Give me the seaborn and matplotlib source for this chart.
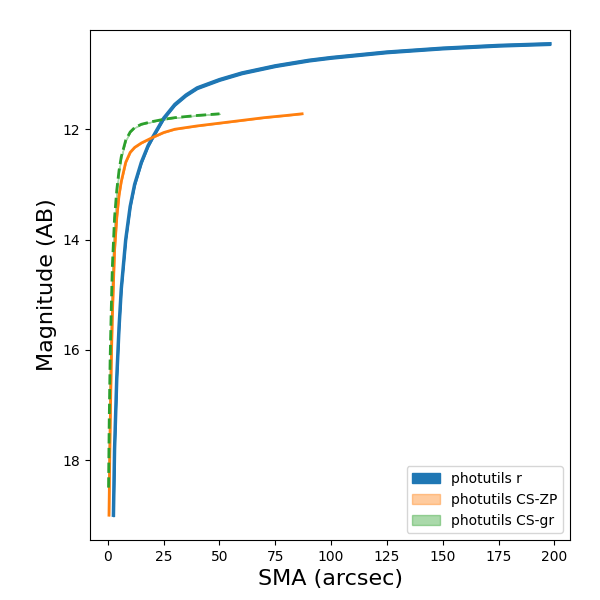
import numpy as np
import matplotlib
matplotlib.use("Agg")
import matplotlib.pyplot as plt
import seaborn as sns

sma_r = [2.5, 3, 4, 5, 6, 8, 10, 12, 15, 18, 20, 25, 30, 35, 40, 50, 60, 75, 90, 100, 125, 150, 175, 198]
mag_r = [19.0, 17.8, 16.5, 15.6, 14.9, 14.0, 13.4, 13.0, 12.6, 12.3, 12.15, 11.8, 11.55, 11.38, 11.25, 11.1, 10.98, 10.85, 10.75, 10.7, 10.6, 10.53, 10.48, 10.45]
sma_zp = [0.5, 1, 1.5, 2, 3, 4, 5, 6, 8, 10, 12, 15, 20, 25, 30, 40, 50, 60, 70, 80, 87]
mag_zp = [19.0, 17.5, 16.3, 15.4, 14.2, 13.6, 13.2, 12.95, 12.6, 12.42, 12.33, 12.25, 12.15, 12.06, 12.0, 11.94, 11.89, 11.84, 11.79, 11.75, 11.72]
sma_gr = [0.3, 0.6, 1, 1.5, 2, 3, 4, 5, 6, 8, 10, 12, 15, 20, 25, 30, 40, 50]
mag_gr = [18.5, 17.3, 16.2, 15.3, 14.5, 13.6, 13.1, 12.75, 12.5, 12.2, 12.05, 11.97, 11.91, 11.86, 11.82, 11.79, 11.75, 11.72]

c = sns.color_palette("tab10")
fig, ax = plt.subplots(figsize=(6, 6), dpi=100)

sns.lineplot(x=sma_r, y=mag_r, ax=ax, color=c[0], lw=2.5, sort=False)
ax.fill_between(sma_r, np.array(mag_r) - 0.02, np.array(mag_r) + 0.02, color=c[0], alpha=1, label="photutils r")
sns.lineplot(x=sma_zp, y=mag_zp, ax=ax, color=c[1], lw=2, sort=False)
ax.fill_between(sma_zp, mag_zp, mag_zp, color=c[1], alpha=0.4, label="photutils CS-ZP")
sns.lineplot(x=sma_gr, y=mag_gr, ax=ax, color=c[2], lw=2, ls="--", sort=False)
ax.fill_between(sma_gr, mag_gr, mag_gr, color=c[2], alpha=0.4, label="photutils CS-gr")

ax.set_xlim(-8, 207)
ax.set_ylim(19.45, 10.2)
ax.set_xticks(range(0, 201, 25))
ax.set_yticks([12, 14, 16, 18])
ax.set_xlabel("SMA (arcsec)", fontsize=16)
ax.set_ylabel("Magnitude (AB)", fontsize=16)
ax.legend(loc="lower right")
fig.subplots_adjust(left=0.15, right=0.95, bottom=0.1, top=0.95)
fig.savefig("out.png")
